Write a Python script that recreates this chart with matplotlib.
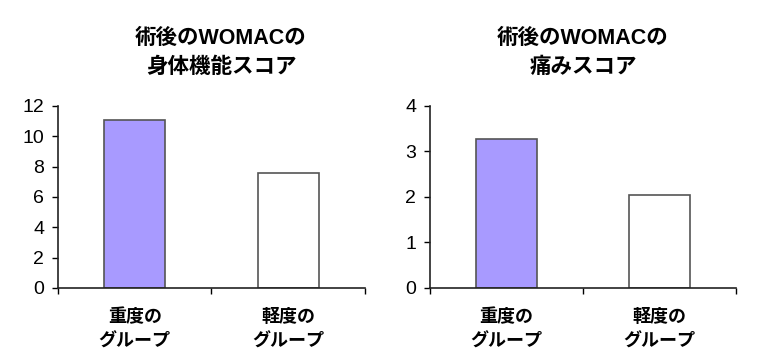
import matplotlib
matplotlib.use("Agg")
import matplotlib.pyplot as plt

plt.rcParams['font.family'] = ['Liberation Sans', 'Noto Sans CJK JP', 'DejaVu Sans']

# data
groups = ['重度の\nグループ', '軽度の\nグループ']
function_scores = [11.1, 7.6]
pain_scores = [3.27, 2.04]

titles = ['術後のWOMACの\n身体機能スコア', '術後のWOMACの\n痛みスコア']
y_limits = [12, 4]
y_steps = [2, 1]

bar_colors = ['#a89aff', 'white']


def draw_panel(ax, values, ymax, step):
    x = range(len(values))
    ax.bar(x, values, width=0.4, color=bar_colors, edgecolor='#555555', linewidth=1.2)
    ax.set_xlim(-0.5, len(values) - 0.5)
    ax.set_ylim(0, ymax)
    ax.set_yticks(range(0, ymax + 1, step))
    ax.set_xticks([i - 0.5 for i in range(len(values) + 1)])
    ax.set_xticklabels([])
    ax.set_xticks(list(x), minor=True)
    ax.set_xticklabels(groups, minor=True, fontsize=13, fontweight='bold', linespacing=1.55)
    ax.tick_params(axis='x', which='minor', length=0, pad=15)
    ax.tick_params(axis='x', which='major', length=4, direction='out', width=1)
    ax.tick_params(axis='y', length=4, direction='out', labelsize=14, pad=6, width=1)
    for s in ['top', 'right']:
        ax.spines[s].set_visible(False)
    for s in ['left', 'bottom']:
        ax.spines[s].set_linewidth(1.2)
        ax.spines[s].set_color('#222222')


fig = plt.figure(figsize=(7.76, 3.64), dpi=100)
ax1 = fig.add_axes([0.0747, 0.2088, 0.3956, 0.5])
ax2 = fig.add_axes([0.5541, 0.2088, 0.3943, 0.5])

draw_panel(ax1, function_scores, y_limits[0], y_steps[0])
draw_panel(ax2, pain_scores, y_limits[1], y_steps[1])

fig.text(221 / 776, 1 - 53 / 364, titles[0], ha='center', va='center',
         fontsize=15.5, fontweight='bold', linespacing=1.5)
fig.text(583 / 776, 1 - 53 / 364, titles[1], ha='center', va='center',
         fontsize=15.5, fontweight='bold', linespacing=1.5)

fig.savefig('out.png', dpi=100)
